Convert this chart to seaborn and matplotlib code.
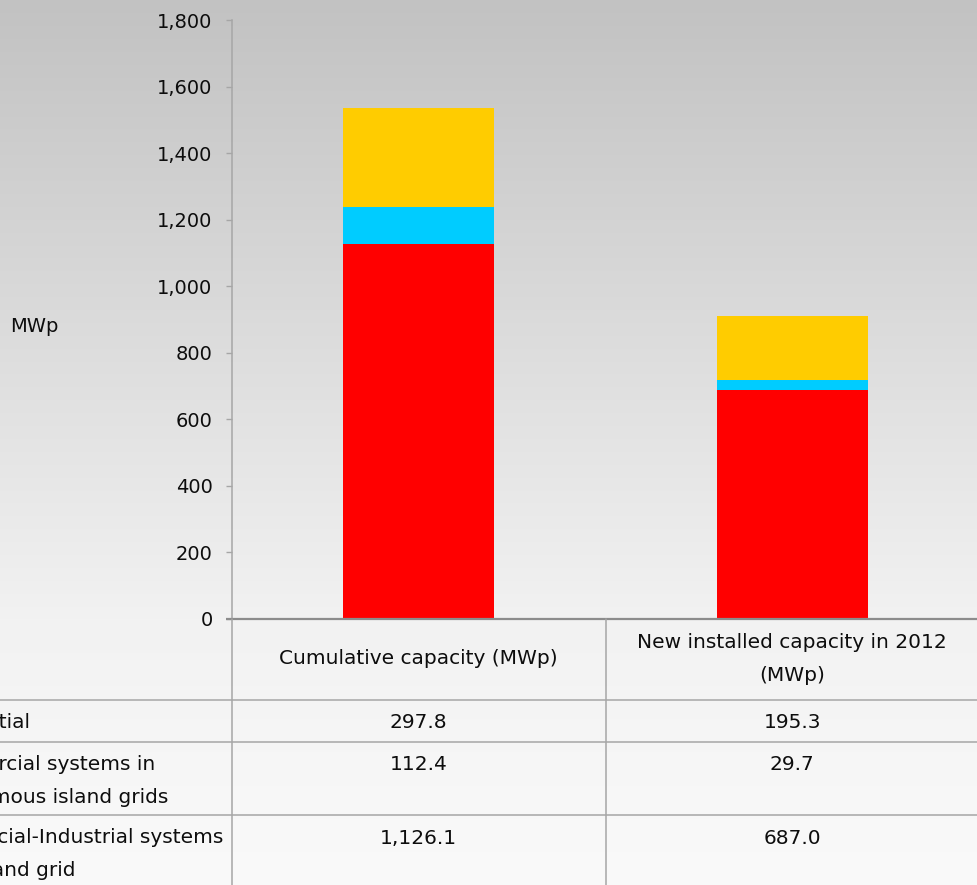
import numpy as np
import pandas as pd
import matplotlib
matplotlib.use("Agg")
import matplotlib.pyplot as plt
import matplotlib.transforms as mtransforms
from matplotlib.ticker import StrMethodFormatter
import seaborn as sns

periods = ["Cumulative capacity (MWp)", "New installed capacity in 2012\n(MWp)"]
series_names = ["Residential",
                "Commercial systems in\nautonomous island grids",
                "Commercial-Industrial systems\nin mainland grid"]
residential = [297.8, 195.3]
island_grids = [112.4, 29.7]
mainland_grid = [1126.1, 687.0]
y_ticks = [0, 200, 400, 600, 800, 1000, 1200, 1400, 1600, 1800]

colors = {"mainland": "#FF0000", "island": "#00CCFF", "residential": "#FFCC00"}
line_col = "#a6a6a6"
txt_col = "#0d0d0d"
fs_tick = 14
fs = 14.5
ls = 1.88

sns.set_style("ticks")
plt.rcParams["font.family"] = ["DejaVu Sans"]

df = pd.DataFrame({"period": periods,
                   "mainland": mainland_grid,
                   "island": island_grids,
                   "residential": residential})
# stacked bars: draw cumulative heights from the top segment down
df["lvl1"] = df["mainland"]
df["lvl2"] = df["lvl1"] + df["island"]
df["lvl3"] = df["lvl2"] + df["residential"]

W, H = 977, 885
fig = plt.figure(figsize=(W / 100, H / 100), dpi=100)

# grey gradient background
rows = np.arange(H)
shade = np.interp(rows, [0, 619, H], [194, 242, 250]) / 255
grad = np.repeat(shade[:, None], 2, axis=1)
bg = fig.add_axes([0, 0, 1, 1], zorder=-10)
bg.imshow(np.dstack([grad, grad, grad]), aspect="auto", extent=[0, 1, 0, 1])
bg.axis("off")

ax = fig.add_axes([232 / W, 1 - 619 / H, 1 - 232 / W + 0.002, (619 - 20) / H])
ax.set_facecolor("none")
sns.barplot(data=df, x="period", y="lvl3", color=colors["residential"], width=0.405,
            errorbar=None, linewidth=0, saturation=1, ax=ax)
sns.barplot(data=df, x="period", y="lvl2", color=colors["island"], width=0.405,
            errorbar=None, linewidth=0, saturation=1, ax=ax)
sns.barplot(data=df, x="period", y="lvl1", color=colors["mainland"], width=0.405,
            errorbar=None, linewidth=0, saturation=1, ax=ax)

ax.set_ylim(0, 1800)
ax.set_xlim(-0.5, 1.5)
ax.set_yticks(y_ticks)
ax.yaxis.set_major_formatter(StrMethodFormatter("{x:,.0f}"))
ax.set_xticks([])
ax.set_xlabel("")
ax.set_ylabel("")
ax.tick_params(axis="y", direction="out", length=4, width=1, color=line_col,
               labelsize=fs_tick, labelcolor=txt_col, pad=10)
for s in ["top", "right", "bottom"]:
    ax.spines[s].set_visible(False)
ax.spines["left"].set_color(line_col)
ax.spines["left"].set_linewidth(1.1)

# overlay in pixel coords for the data table
ov = fig.add_axes([0, 0, 1, 1], zorder=5)
ov.set_xlim(0, W)
ov.set_ylim(H, 0)
ov.axis("off")
ov.set_facecolor("none")

ov.plot([226, W], [619, 619], color="#8c8c8c", lw=1.6, solid_capstyle="butt")
for yy in [700, 742, 815]:
    ov.plot([0, W], [yy, yy], color=line_col, lw=1.1)
for xx in [232, 606]:
    ov.plot([xx, xx], [619, H], color=line_col, lw=1.1)

fig.text(10 / W, 1 - 326 / H, "MWp", fontsize=fs_tick, ha="left", va="center", color=txt_col)

# column x from bar axis, row y in pixels
tr = mtransforms.blended_transform_factory(ax.transData, ov.transData)
for i, p in enumerate(periods):
    ov.text(i, 659, p, transform=tr, ha="center", va="center", fontsize=fs,
            linespacing=ls, color=txt_col)

row_vals = [residential, island_grids, mainland_grid]
row_y = [722, 765, 838]
for vals, yy in zip(row_vals, row_y):
    for i, v in enumerate(vals):
        ov.text(i, yy, f"{v:,.1f}", transform=tr, ha="center", va="center",
                fontsize=fs, color=txt_col)

# row labels run off the left edge, as in the original crop
label_x = [-81, -80, -89]
for name, xx, yy in zip(series_names, label_x, row_y):
    n_lines = name.count("\n") + 1
    ov.text(xx, yy + (n_lines - 1) * 16, name, ha="left", va="center", fontsize=fs,
            linespacing=ls, color=txt_col, clip_on=False)

fig.savefig("out.png", dpi=100)
